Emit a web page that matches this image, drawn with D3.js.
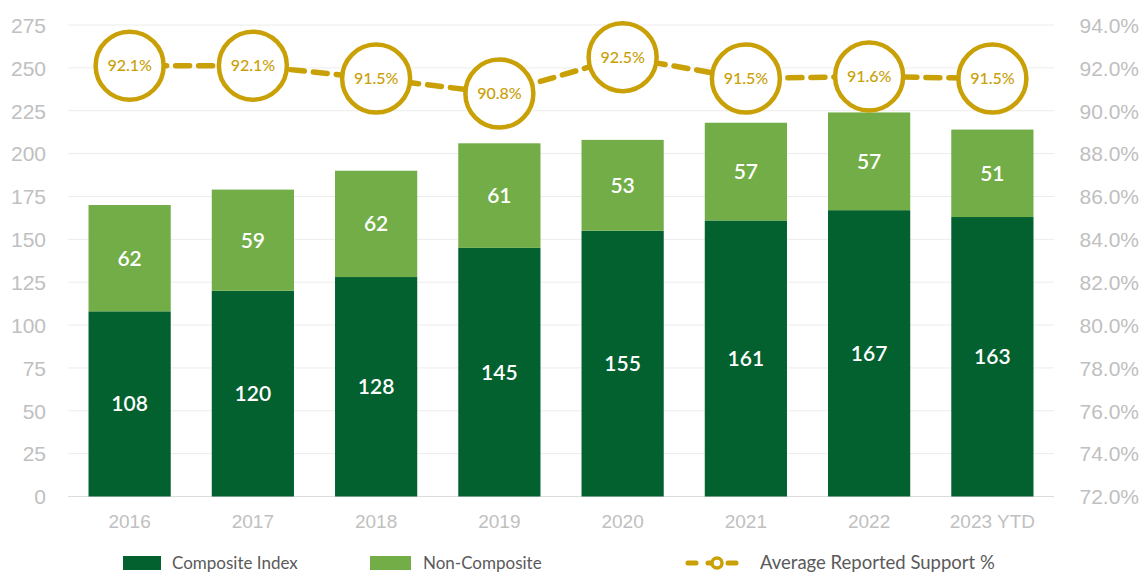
<!DOCTYPE html>
<html>
<head>
<meta charset="utf-8">
<script src="https://cdn.jsdelivr.net/npm/d3@7"></script>
<style>
  html, body { margin: 0; padding: 0; background: #ffffff; }
  svg { display: block; font-family: Lato, "Open Sans", sans-serif; }
</style>
</head>
<body>
<svg id="chart" width="1142" height="573"></svg>
<script>
// Proxy voting totals by year
const years = ["2016", "2017", "2018", "2019", "2020", "2021", "2022", "2023 YTD"];
const composite = [108, 120, 128, 145, 155, 161, 167, 163];
const nonComposite = [62, 59, 62, 61, 53, 57, 57, 51];
const support = [92.1, 92.1, 91.5, 90.8, 92.5, 91.5, 91.6, 91.5];
const leftTicks = [0, 25, 50, 75, 100, 125, 150, 175, 200, 225, 250, 275];
const rightTicks = [72, 74, 76, 78, 80, 82, 84, 86, 88, 90, 92, 94];
const seriesNames = ["Composite Index", "Non-Composite", "Average Reported Support %"];

const colors = { dark: "#03612f", light: "#72ad47", gold: "#c9a006", axis: "#c0c0c0", grid: "#ececec", legend: "#5a5a5a" };

const svg = d3.select("#chart");
const plot = { left: 68, right: 1054, top: 25, bottom: 496.5 };

const x = d3.scaleBand().domain(years).range([plot.left, plot.right]).paddingInner(0.333).paddingOuter(0.1665);
const y = d3.scaleLinear().domain([0, 275]).range([plot.bottom, plot.top]);
const y2 = d3.scaleLinear().domain([72, 94]).range([plot.bottom, plot.top]);

// gridlines
svg.append("g").selectAll("line").data(leftTicks).join("line")
  .attr("x1", plot.left).attr("x2", plot.right)
  .attr("y1", d => y(d)).attr("y2", d => y(d))
  .attr("stroke", d => d === 0 ? "#dcdcdc" : colors.grid).attr("stroke-width", 1);

// left axis
const leftAxis = svg.append("g").attr("transform", `translate(${plot.left - 22},0)`)
  .call(d3.axisLeft(y).tickValues(leftTicks).tickSize(0).tickPadding(0));
leftAxis.select(".domain").remove();
leftAxis.selectAll("text").attr("fill", colors.axis).attr("font-size", 21).attr("dy", "0.35em");

// right axis
const rightAxis = svg.append("g").attr("transform", `translate(1139,0)`)
  .call(d3.axisLeft(y2).tickValues(rightTicks).tickSize(0).tickPadding(0).tickFormat(d => d.toFixed(1) + "%"));
rightAxis.select(".domain").remove();
rightAxis.selectAll("text").attr("fill", colors.axis).attr("font-size", 21).attr("dy", "0.35em");

// bottom axis
const bottomAxis = svg.append("g").attr("transform", `translate(0,${plot.bottom + 25})`)
  .call(d3.axisBottom(x).tickSize(0).tickPadding(0));
bottomAxis.select(".domain").remove();
bottomAxis.selectAll("text").attr("fill", colors.axis).attr("font-size", 19).attr("dy", "0.35em");

// stacked bars
const rows = years.map((yr, i) => ({ year: yr, composite: composite[i], nonComposite: nonComposite[i] }));
const stack = d3.stack().keys(["composite", "nonComposite"])(rows);
const fills = [colors.dark, colors.light];

stack.forEach((layer, li) => {
  const g = svg.append("g");
  g.selectAll("rect").data(layer).join("rect")
    .attr("x", d => x(d.data.year))
    .attr("width", x.bandwidth())
    .attr("y", d => y(d[1]))
    .attr("height", d => y(d[0]) - y(d[1]))
    .attr("fill", fills[li]);
  g.selectAll("text").data(layer).join("text")
    .attr("x", d => x(d.data.year) + x.bandwidth() / 2)
    .attr("y", d => (y(d[0]) + y(d[1])) / 2)
    .attr("dy", "0.35em")
    .attr("text-anchor", "middle")
    .attr("fill", "#ffffff")
    .attr("font-size", 21)
    .attr("font-weight", 600)
    .text(d => d[1] - d[0]);
});

// support line
const pts = years.map((yr, i) => ({ year: yr, v: support[i] }));
const line = d3.line().x(d => x(d.year) + x.bandwidth() / 2).y(d => y2(d.v));
svg.append("path").datum(pts)
  .attr("d", line)
  .attr("fill", "none")
  .attr("stroke", colors.gold)
  .attr("stroke-width", 5.5)
  .attr("stroke-dasharray", "14,9")
  .attr("stroke-linecap", "round");

const markers = svg.append("g").selectAll("g").data(pts).join("g")
  .attr("transform", d => `translate(${x(d.year) + x.bandwidth() / 2},${y2(d.v)})`);
markers.append("circle").attr("r", 34).attr("fill", "#ffffff").attr("stroke", colors.gold).attr("stroke-width", 4.5);
markers.append("text")
  .attr("text-anchor", "middle").attr("dy", "0.35em")
  .attr("fill", colors.gold).attr("font-size", 16).attr("font-weight", 500)
  .text(d => d.v.toFixed(1) + "%");

// legend
const legend = svg.append("g").attr("transform", "translate(0,563)");
legend.append("rect").attr("x", 123).attr("y", -7).attr("width", 38).attr("height", 14).attr("fill", colors.dark);
legend.append("text").attr("x", 172).attr("dy", "0.35em").attr("font-size", 17).attr("fill", colors.legend).text(seriesNames[0]);
legend.append("rect").attr("x", 370).attr("y", -7).attr("width", 41).attr("height", 14).attr("fill", colors.light);
legend.append("text").attr("x", 423).attr("dy", "0.35em").attr("font-size", 17).attr("fill", colors.legend).text(seriesNames[1]);
legend.append("line").attr("x1", 688).attr("x2", 745).attr("y1", 0).attr("y2", 0)
  .attr("stroke", colors.gold).attr("stroke-width", 5).attr("stroke-linecap", "round").attr("stroke-dasharray", "8,12");
legend.append("circle").attr("cx", 717).attr("cy", 0).attr("r", 5).attr("fill", "#ffffff").attr("stroke", colors.gold).attr("stroke-width", 3.5);
legend.append("text").attr("x", 760).attr("dy", "0.35em").attr("font-size", 18.5).attr("fill", colors.legend).text(seriesNames[2]);
</script>
</body>
</html>
